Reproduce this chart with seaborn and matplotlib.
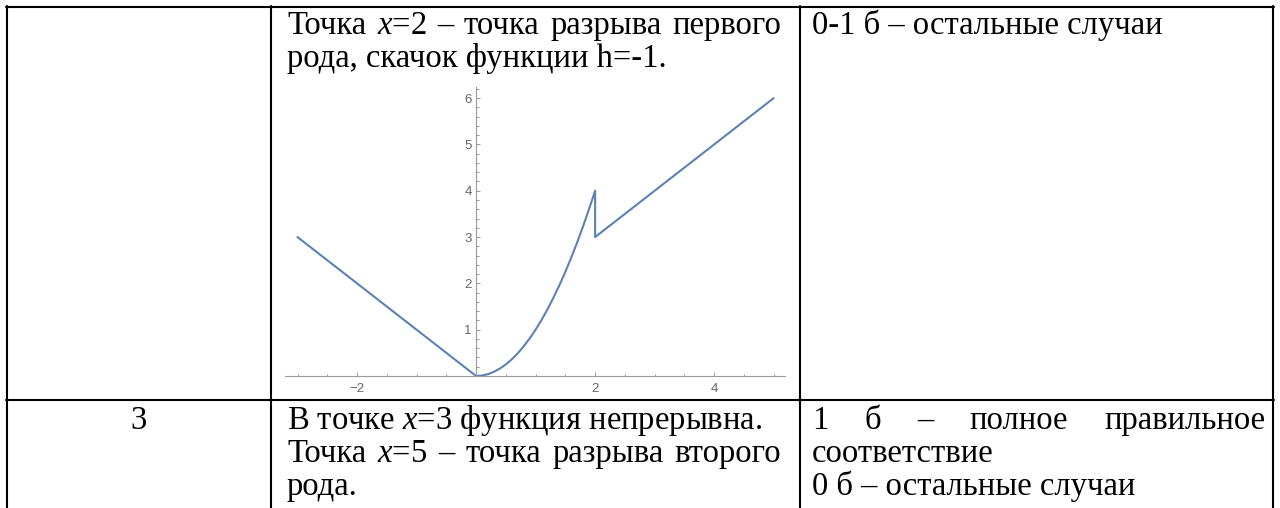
import matplotlib
matplotlib.use('Agg')
import matplotlib.pyplot as plt
import seaborn as sns
import pandas as pd
from matplotlib.ticker import FixedLocator, MultipleLocator

# curve of the embedded plot
curve_x = [-3, 0, 0.1, 0.2, 0.3, 0.4, 0.5, 0.6, 0.7, 0.8, 0.9, 1.0,
           1.1, 1.2, 1.3, 1.4, 1.5, 1.6, 1.7, 1.8, 1.9, 2, 2, 3, 4, 5]
curve_y = [3, 0, 0.01, 0.04, 0.09, 0.16, 0.25, 0.36, 0.49, 0.64, 0.81, 1.0,
           1.21, 1.44, 1.69, 1.96, 2.25, 2.56, 2.89, 3.24, 3.61, 4, 3, 4, 5, 6]
x_ticks = [-2, 2, 4]
y_ticks = [1, 2, 3, 4, 5, 6]

# table text, one entry per printed line; flag = justified line
row1_mid = ['Точка $x$=2 – точка разрыва первого', 'рода, скачок функции h=-1.']
row1_mid_just = [True, False]
row1_right = ['0-1 б – остальные случаи']
row1_right_just = [False]
row2_left = ['3']
row2_mid = ['В точке $x$=3 функция непрерывна.',
            'Точка $x$=5 – точка разрыва второго', 'рода.']
row2_mid_just = [False, True, False]
row2_right = ['1 б – полное правильное', 'соответствие', '0 б – остальные случаи']
row2_right_just = [True, False, False]

W, H = 1280, 508
FS = 23.5
LINE_BLUE = '#5E81B5'
AX_GRAY = '#9a9a9a'


def put_line(ax, renderer, text, x0, x1, y, justify):
    if not justify:
        ax.text(x0, y, text, ha='left', va='baseline', fontsize=FS)
        return
    words = text.split(' ')
    items = [ax.text(0, y, w, ha='left', va='baseline', fontsize=FS) for w in words]
    widths = [t.get_window_extent(renderer).width for t in items]
    gap = (x1 - x0 - sum(widths)) / (len(words) - 1)
    x = x0
    for t, w in zip(items, widths):
        t.set_x(x)
        x += w + gap


def put_cell(ax, renderer, lines, flags, x0, x1, y0, step=33):
    for i, (s, j) in enumerate(zip(lines, flags)):
        put_line(ax, renderer, s, x0, x1, y0 + i * step, j)


sns.set_style('white')
plt.rcParams['font.family'] = ['Liberation Serif', 'DejaVu Serif']
plt.rcParams['text.color'] = 'black'
plt.rcParams['mathtext.fontset'] = 'custom'
plt.rcParams['mathtext.rm'] = 'Liberation Serif'
plt.rcParams['mathtext.it'] = 'Liberation Serif:italic'

fig = plt.figure(figsize=(W / 100, H / 100), dpi=100)
fig.patch.set_facecolor('white')

# page layer in pixel coordinates
page = fig.add_axes([0, 0, 1, 1])
page.set_xlim(0, W)
page.set_ylim(H, 0)
page.axis('off')
renderer = fig.canvas.get_renderer()

lw = 1.5
for x in [7, 271, 800, 1273]:
    page.plot([x, x], [6, H + 2], color='black', lw=lw)
for y in [7, 400]:
    page.plot([6, 1274], [y, y], color='black', lw=lw)

put_cell(page, renderer, row1_mid, row1_mid_just, 287, 781, 34)
put_cell(page, renderer, row1_right, row1_right_just, 812, 1265, 34)
page.text(139, 429, row2_left[0], ha='center', va='baseline', fontsize=FS)
put_cell(page, renderer, row2_mid, row2_mid_just, 287, 781, 429)
put_cell(page, renderer, row2_right, row2_right_just, 812, 1265, 429)

# embedded plot (axes through the origin)
ax = fig.add_axes([285 / W, 1 - 376 / H, 500 / W, 289 / H])
ax.patch.set_alpha(0)
df = pd.DataFrame({'x': curve_x, 'y': curve_y})
sns.lineplot(data=df, x='x', y='y', sort=False, estimator=None, ax=ax,
             color=LINE_BLUE, linewidth=1.5, clip_on=False)
ax.set_xlim(-3.21, 5.19)
ax.set_ylim(0, 6.24)
ax.set_xlabel('')
ax.set_ylabel('')
for side in ['top', 'right']:
    ax.spines[side].set_visible(False)
ax.spines['left'].set_position(('data', 0))
for side in ['left', 'bottom']:
    ax.spines[side].set_color(AX_GRAY)
    ax.spines[side].set_linewidth(0.8)
ax.xaxis.set_major_locator(FixedLocator(x_ticks))
ax.yaxis.set_major_locator(FixedLocator(y_ticks))
ax.xaxis.set_minor_locator(MultipleLocator(0.5))
ax.yaxis.set_minor_locator(MultipleLocator(0.2))
ax.tick_params(which='both', bottom=True, left=True, direction='in',
               color=AX_GRAY, width=0.7, labelcolor='#666666', labelsize=9.5,
               labelfontfamily='Liberation Sans')
ax.tick_params(which='major', length=3.2)
ax.tick_params(which='minor', length=1.8)
ax.tick_params(axis='x', which='major', pad=5)
ax.tick_params(axis='y', which='major', pad=3)

fig.savefig('out.png', dpi=100, facecolor='white')
